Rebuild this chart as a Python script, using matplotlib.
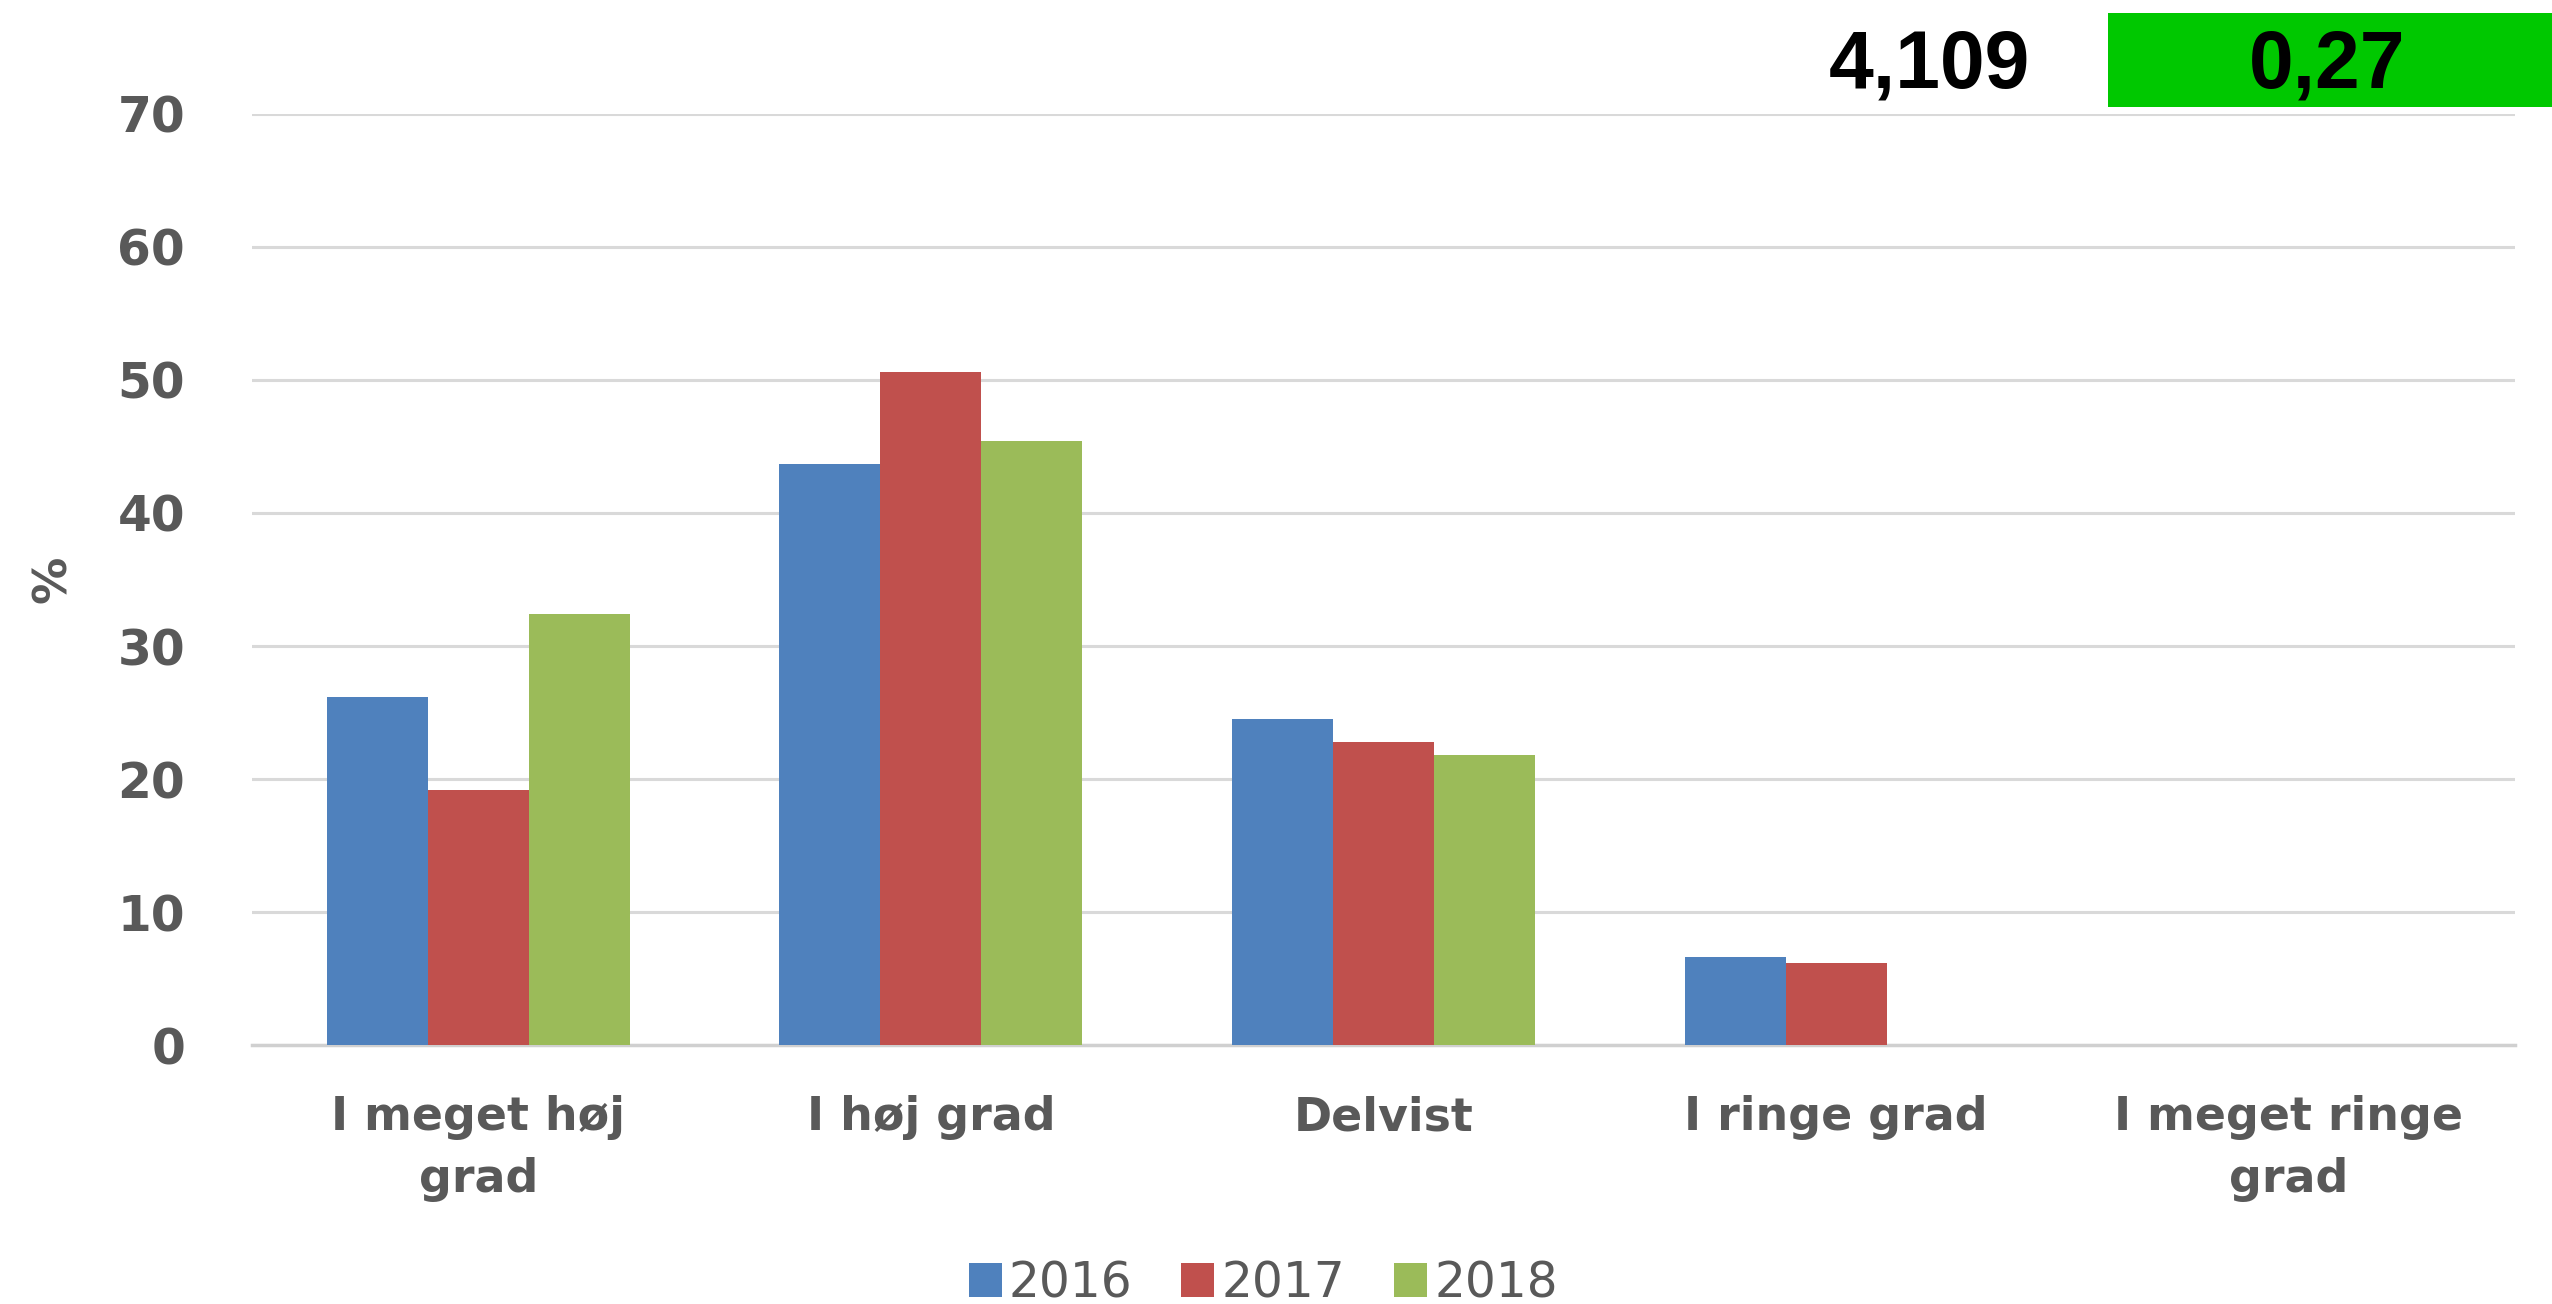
import numpy as np
import matplotlib
matplotlib.use("Agg")
import matplotlib.pyplot as plt
from matplotlib.patches import Rectangle

# data
categories = ["I meget høj\ngrad", "I høj grad", "Delvist", "I ringe grad", "I meget ringe\ngrad"]
years = ["2016", "2017", "2018"]
v2016 = [26.2, 43.7, 24.5, 6.6, 0]
v2017 = [19.2, 50.6, 22.8, 6.2, 0]
v2018 = [32.4, 45.4, 21.8, 0, 0]
colors = ["#4F81BD", "#C0504D", "#9BBB59"]
yticks = [0, 10, 20, 30, 40, 50, 60, 70]
top_value = "4,109"
box_value = "0,27"

grey = "#595959"

fig = plt.figure(figsize=(25.52, 13.04), dpi=100)
ax = fig.add_axes([0.0987, 0.1986, 0.8868, 0.714])

x = np.arange(len(categories))
w = 0.223
for i, (vals, col, yr) in enumerate(zip([v2016, v2017, v2018], colors, years)):
    ax.bar(x + (i - 1) * w, vals, width=w, color=col, linewidth=0, label=yr, zorder=3)

ax.set_xlim(-0.5, len(categories) - 0.5)
ax.set_ylim(0, 70)
ax.set_yticks(yticks)
ax.set_yticklabels([str(t) for t in yticks], fontsize=35, fontweight="bold", color=grey)
ax.set_xticks(x)
ax.set_xticklabels(categories, fontsize=33, fontweight="bold", color=grey, linespacing=1.48)
ax.tick_params(axis="y", length=0, pad=48)
ax.tick_params(axis="x", length=0, pad=36)
ax.yaxis.grid(True, color="#d9d9d9", linewidth=2.2, zorder=0)
for s in ["top", "right", "left"]:
    ax.spines[s].set_visible(False)
ax.spines["bottom"].set_color("#d0d0d0")
ax.spines["bottom"].set_linewidth(2.5)
ax.set_ylabel("%", fontsize=34, fontweight="bold", color=grey, labelpad=30)

fig.legend(loc="center", bbox_to_anchor=(0.495, 0.016), ncol=3, frameon=False,
           fontsize=35, labelcolor=grey, handlelength=0.68, handleheight=0.68,
           handletextpad=0.15, columnspacing=1.0)

# values in the top right corner
fig.text(0.756, 0.949, top_value, ha="center", va="center", fontsize=58, fontweight="bold",
         family=["Liberation Sans Narrow", "Liberation Sans"], color="black")
fig.patches.append(Rectangle((0.826, 0.918), 0.174, 0.072, transform=fig.transFigure,
                             facecolor="#00C800", edgecolor="none"))
fig.text(0.912, 0.949, box_value, ha="center", va="center", fontsize=58, fontweight="bold",
         family=["Liberation Sans Narrow", "Liberation Sans"], color="black")

fig.savefig("out.png", dpi=100)
